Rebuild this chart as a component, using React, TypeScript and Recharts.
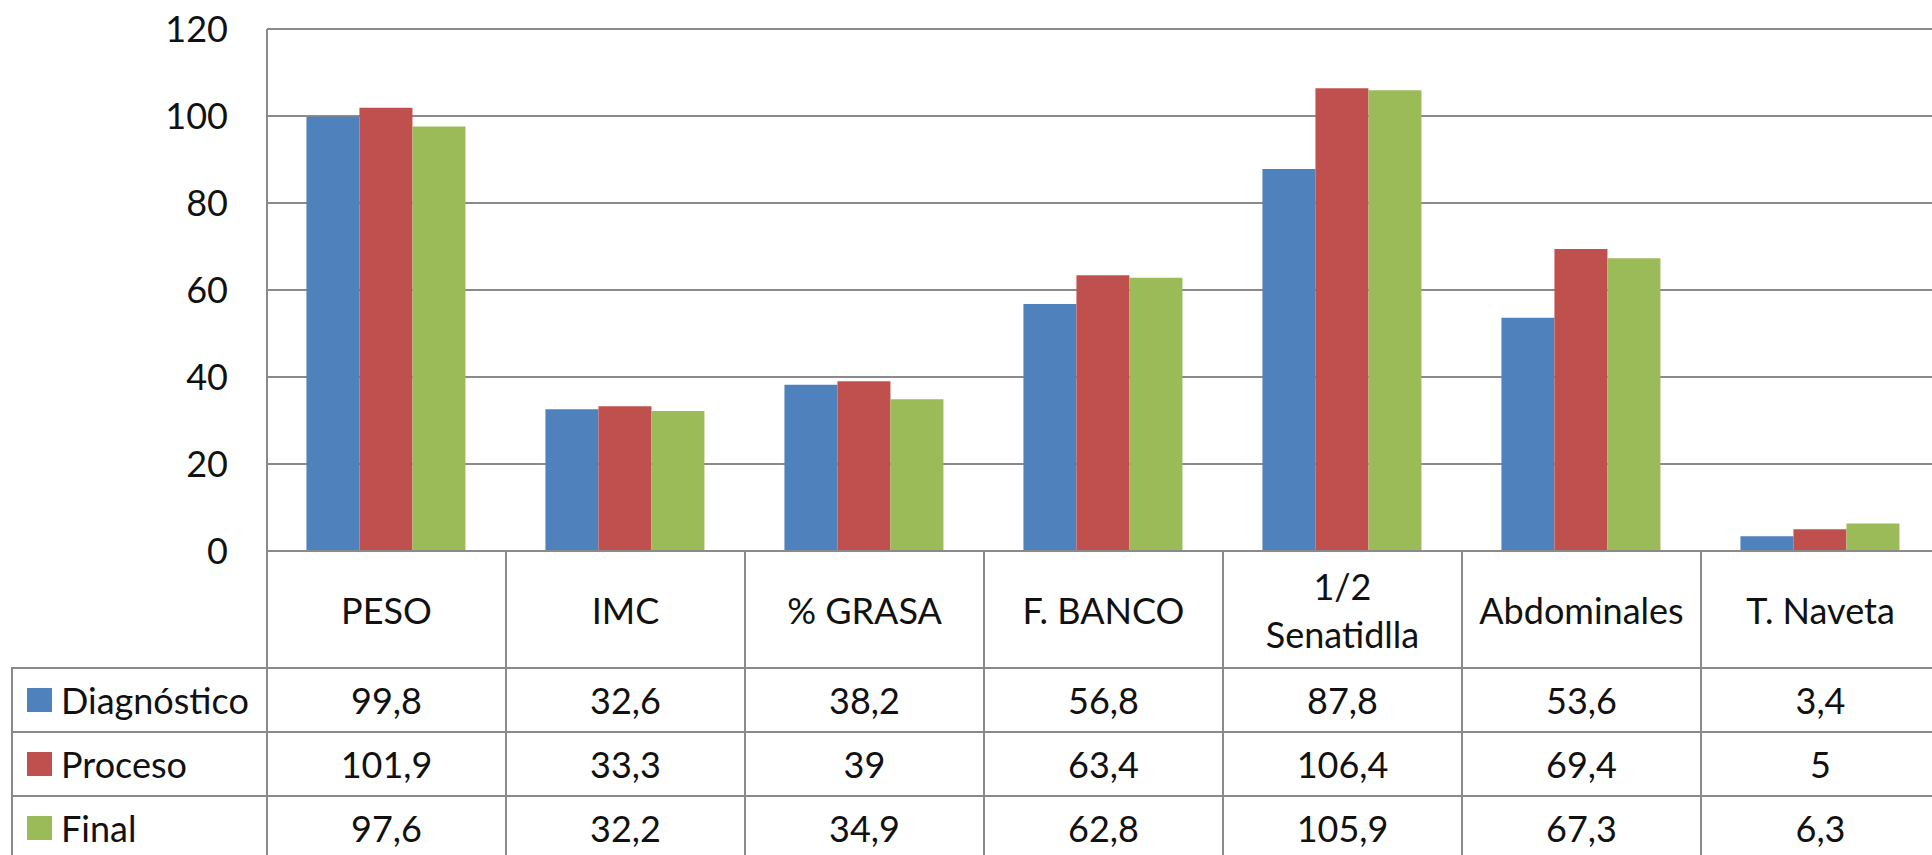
import { BarChart, Bar, XAxis, YAxis, CartesianGrid } from "recharts";

const CATEGORIES = ["PESO", "IMC", "% GRASA", "F. BANCO", "1/2 Senatidlla", "Abdominales", "T. Naveta"];
const HEADER_LINES = [["PESO"], ["IMC"], ["% GRASA"], ["F. BANCO"], ["1/2", "Senatidlla"], ["Abdominales"], ["T. Naveta"]];
const DIAGNOSTICO = [99.8, 32.6, 38.2, 56.8, 87.8, 53.6, 3.4];
const PROCESO = [101.9, 33.3, 39, 63.4, 106.4, 69.4, 5];
const FINAL = [97.6, 32.2, 34.9, 62.8, 105.9, 67.3, 6.3];
const Y_TICKS = [0, 20, 40, 60, 80, 100, 120];

const SERIES = [
  { key: "Diagnóstico", values: DIAGNOSTICO, color: "#4F81BD" },
  { key: "Proceso", values: PROCESO, color: "#C0504D" },
  { key: "Final", values: FINAL, color: "#9BBB59" },
];

const FONT = "Lato, 'Open Sans', sans-serif";
const LINE = "#8a8a8a";
const PLOT_LEFT = 267;
const COL_W = 239;
const TABLE_LEFT = 12;
const PLOT_BOTTOM = 551;
const HEADER_BOTTOM = 668;
const ROW_H = 64;

const fmt = (v: number) => String(v).replace(".", ",");

export default function App() {
  const data = CATEGORIES.map((name, i) => {
    const row: Record<string, string | number> = { name };
    SERIES.forEach(s => { row[s.key] = s.values[i]; });
    return row;
  });

  const cellText = { position: "absolute" as const, display: "flex", alignItems: "center", justifyContent: "center", fontFamily: FONT, fontSize: 36, color: "#111", textAlign: "center" as const };

  return (
    <div style={{ position: "absolute", left: 0, top: 0, width: 1932, height: 855, overflow: "hidden", background: "#fff" }}>
      <div style={{ position: "absolute", left: 0, top: 0 }}>
        <BarChart
          width={PLOT_LEFT + COL_W * 7}
          height={PLOT_BOTTOM + 30}
          data={data}
          margin={{ top: 29, right: 0, left: 0, bottom: 30 }}
          barCategoryGap="16.5%"
          barGap={0}
        >
          <CartesianGrid vertical={false} stroke={LINE} strokeWidth={2} />
          <XAxis dataKey="name" hide />
          <YAxis
            width={PLOT_LEFT}
            domain={[0, 120]}
            ticks={Y_TICKS}
            interval={0}
            tickLine={false}
            tickSize={0}
            tickMargin={39}
            axisLine={{ stroke: LINE, strokeWidth: 2 }}
            tick={{ fill: "#111", fontSize: 36, fontFamily: FONT }}
          />
          {SERIES.map(s => (
            <Bar key={s.key} dataKey={s.key} fill={s.color} isAnimationActive={false} />
          ))}
        </BarChart>
      </div>

      {/* data table under the plot */}
      {HEADER_LINES.map((lines, i) => (
        <div key={"h" + i} style={{ ...cellText, left: PLOT_LEFT + i * COL_W, top: PLOT_BOTTOM, width: COL_W, height: HEADER_BOTTOM - PLOT_BOTTOM, flexDirection: "column", lineHeight: "48px", whiteSpace: "nowrap" }}>
          {lines.map(l => <div key={l}>{l}</div>)}
        </div>
      ))}
      {SERIES.map((s, r) => (
        <div key={s.key}>
          <div style={{ ...cellText, justifyContent: "flex-start", left: TABLE_LEFT, top: HEADER_BOTTOM + r * ROW_H, width: PLOT_LEFT - TABLE_LEFT, height: ROW_H }}>
            <span style={{ display: "inline-block", width: 25, height: 24, background: s.color, marginLeft: 15, marginRight: 9 }} />
            {s.key}
          </div>
          {s.values.map((v, i) => (
            <div key={i} style={{ ...cellText, left: PLOT_LEFT + i * COL_W, top: HEADER_BOTTOM + r * ROW_H, width: COL_W, height: ROW_H }}>
              {fmt(v)}
            </div>
          ))}
        </div>
      ))}

      {/* table grid lines */}
      <div style={{ position: "absolute", left: PLOT_LEFT, top: PLOT_BOTTOM - 1, width: 1932, height: 2, background: LINE }} />
      {Array.from({ length: 8 }, (_, i) => (
        <div key={"v" + i} style={{ position: "absolute", left: PLOT_LEFT + i * COL_W - 1, top: PLOT_BOTTOM, width: 2, height: 855 - PLOT_BOTTOM, background: LINE }} />
      ))}
      <div style={{ position: "absolute", left: TABLE_LEFT - 1, top: HEADER_BOTTOM, width: 2, height: 855 - HEADER_BOTTOM, background: LINE }} />
      {[0, 1, 2].map(r => (
        <div key={"r" + r} style={{ position: "absolute", left: TABLE_LEFT - 1, top: HEADER_BOTTOM + r * ROW_H - 1, width: 1932, height: 2, background: LINE }} />
      ))}
    </div>
  );
}
